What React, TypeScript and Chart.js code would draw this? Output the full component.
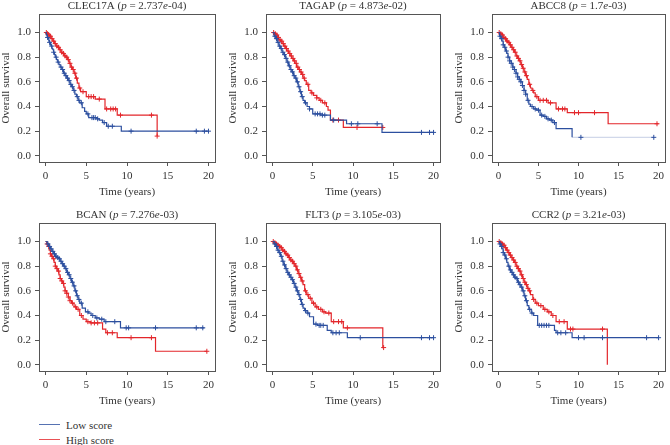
import React, { useEffect, useRef } from "react";
import { Chart, registerables } from "chart.js";
Chart.register(...registerables);

// ---------- data ----------
const genes = ["CLEC17A", "TAGAP", "ABCC8", "BCAN", "FLT3", "CCR2"];
const pMantissas = ["2.737", "4.873", "1.7", "7.276", "3.105", "3.21"];
const pExponents = ["-04", "-02", "-03", "-03", "-03", "-03"];
const xTicks = [0, 5, 10, 15, 20];
const yTicks = [0, 0.2, 0.4, 0.6, 0.8, 1.0];
const seriesNames = ["Low score", "High score"];
const xTitle = "Time (years)";
const yTitle = "Overall survival";

// CLEC17A
const clecLowT = [0, 0.1, 0.2, 0.3, 0.4, 0.5, 0.6, 0.7, 0.8, 0.9, 1.0, 1.1, 1.2, 1.35, 1.5, 1.65, 1.8, 2.0, 2.2, 2.4, 2.6, 2.8, 3.0, 3.2, 3.4, 3.6, 3.8, 4.0, 4.2, 4.5, 4.8, 5.0, 5.3, 6.3, 6.6, 7.0, 7.5, 9.3, 20];
const clecLowS = [1.0, 0.98, 0.96, 0.95, 0.93, 0.92, 0.9, 0.89, 0.87, 0.86, 0.84, 0.82, 0.8, 0.78, 0.76, 0.74, 0.72, 0.7, 0.67, 0.65, 0.63, 0.61, 0.58, 0.56, 0.53, 0.5, 0.48, 0.45, 0.43, 0.39, 0.36, 0.34, 0.31, 0.3, 0.29, 0.27, 0.24, 0.2, 0.2];
const clecLowC = [0.25, 0.5, 0.75, 1.0, 1.3, 1.55, 1.9, 2.1, 2.3, 2.5, 2.7, 2.9, 3.1, 3.3, 3.5, 3.9, 4.1, 4.4, 5.2, 5.7, 5.9, 6.1, 6.4, 7.2, 7.7, 8.2, 10.5, 18.5, 19.5, 20];
const clecHighT = [0, 0.15, 0.3, 0.5, 0.7, 0.9, 1.1, 1.3, 1.5, 1.7, 1.9, 2.1, 2.3, 2.5, 2.7, 2.9, 3.1, 3.3, 3.5, 3.7, 3.9, 4.1, 4.3, 5.0, 6.1, 7.3, 8.8, 13.7];
const clecHighS = [1.0, 0.99, 0.98, 0.97, 0.95, 0.93, 0.91, 0.89, 0.88, 0.86, 0.84, 0.83, 0.81, 0.8, 0.78, 0.75, 0.72, 0.7, 0.67, 0.63, 0.59, 0.55, 0.52, 0.48, 0.46, 0.38, 0.33, 0.16];
const clecHighC = [0.1, 0.25, 0.4, 0.6, 0.8, 1.0, 1.2, 1.4, 1.6, 1.8, 2.0, 2.2, 2.4, 2.6, 2.8, 3.0, 3.2, 3.4, 3.6, 3.8, 4.2, 4.6, 5.3, 5.6, 5.9, 6.6, 7.5, 8.0, 8.3, 8.6, 9.2, 13.0, 13.7];

// TAGAP
const tagapLowT = [0, 0.2, 0.4, 0.6, 0.8, 1.0, 1.2, 1.4, 1.6, 1.8, 2.0, 2.2, 2.4, 2.6, 2.8, 3.0, 3.2, 3.4, 3.6, 3.8, 4.0, 4.3, 4.6, 5.0, 6.0, 7.2, 9.2, 13.6, 20];
const tagapLowS = [1, 0.97, 0.95, 0.92, 0.89, 0.87, 0.84, 0.82, 0.79, 0.76, 0.73, 0.7, 0.68, 0.65, 0.63, 0.6, 0.56, 0.52, 0.48, 0.45, 0.43, 0.4, 0.38, 0.34, 0.33, 0.29, 0.26, 0.19, 0.19];
const tagapLowC = [0.3, 0.5, 0.7, 0.9, 1.1, 1.3, 1.5, 1.7, 1.9, 2.1, 2.3, 2.5, 2.7, 2.9, 3.1, 3.3, 3.5, 3.7, 4.1, 4.6, 5.3, 5.6, 5.9, 6.2, 6.5, 7.6, 9.8, 10.6, 13.0, 18.5, 19.5, 20];
const tagapHighT = [0, 0.2, 0.4, 0.6, 0.8, 1.0, 1.2, 1.4, 1.6, 1.8, 2.0, 2.2, 2.4, 2.6, 2.8, 3.0, 3.2, 3.4, 3.6, 3.8, 4.0, 4.2, 4.5, 4.8, 5.1, 5.5, 5.8, 6.2, 6.7, 6.9, 7.2, 8.8, 13.7];
const tagapHighS = [1, 0.99, 0.98, 0.96, 0.94, 0.93, 0.91, 0.89, 0.87, 0.85, 0.83, 0.81, 0.79, 0.77, 0.75, 0.72, 0.7, 0.68, 0.66, 0.63, 0.61, 0.58, 0.53, 0.51, 0.49, 0.47, 0.45, 0.43, 0.4, 0.37, 0.29, 0.23, 0.23];
const tagapHighC = [0.15, 0.35, 0.55, 0.75, 0.95, 1.15, 1.35, 1.55, 1.75, 1.95, 2.15, 2.35, 2.55, 2.75, 2.95, 3.15, 3.35, 3.55, 3.75, 3.95, 4.4, 4.9, 5.5, 6.0, 6.5, 7.5, 8.2, 10.5, 13.7];

// ABCC8
const abccLowT = [0, 0.15, 0.3, 0.45, 0.6, 0.75, 0.9, 1.05, 1.2, 1.4, 1.6, 1.8, 2.0, 2.2, 2.4, 2.6, 2.8, 3.0, 3.2, 3.4, 3.6, 3.8, 4.0, 4.4, 4.8, 5.2, 5.6, 6.0, 6.4, 6.8, 7.2, 9.2, 19.4];
const abccLowS = [1, 0.97, 0.95, 0.93, 0.9, 0.88, 0.85, 0.83, 0.8, 0.77, 0.75, 0.72, 0.7, 0.67, 0.64, 0.62, 0.6, 0.57, 0.53, 0.5, 0.45, 0.42, 0.4, 0.38, 0.37, 0.33, 0.32, 0.3, 0.29, 0.27, 0.22, 0.15, 0.15];
const abccLowC = [0.2, 0.4, 0.6, 0.8, 1.0, 1.2, 1.4, 1.6, 1.8, 2.0, 2.2, 2.4, 2.6, 2.8, 3.0, 3.2, 3.4, 3.7, 4.2, 4.6, 5.0, 5.4, 5.8, 6.2, 6.6, 7.0, 10.3, 19.4];
const abccHighT = [0, 0.2, 0.4, 0.6, 0.8, 1.0, 1.2, 1.4, 1.6, 1.8, 2.0, 2.2, 2.4, 2.6, 2.8, 3.0, 3.2, 3.4, 3.6, 3.8, 4.0, 4.2, 4.4, 4.6, 5.0, 6.2, 7.2, 8.6, 13.7, 20];
const abccHighS = [1, 0.99, 0.98, 0.96, 0.95, 0.93, 0.92, 0.9, 0.88, 0.86, 0.84, 0.81, 0.79, 0.77, 0.74, 0.71, 0.68, 0.65, 0.62, 0.58, 0.55, 0.53, 0.51, 0.48, 0.45, 0.43, 0.38, 0.35, 0.26, 0.26];
const abccHighC = [0.1, 0.3, 0.5, 0.7, 0.9, 1.1, 1.3, 1.5, 1.7, 1.9, 2.1, 2.3, 2.5, 2.7, 2.9, 3.1, 3.3, 3.5, 3.9, 4.3, 4.8, 5.2, 5.6, 6.0, 6.5, 7.5, 8.0, 8.3, 9.5, 10.0, 12.0, 19.8];

// BCAN
const bcanLowT = [0, 0.2, 0.4, 0.6, 0.8, 1.0, 1.2, 1.4, 1.6, 1.8, 2.0, 2.2, 2.4, 2.6, 2.8, 3.0, 3.2, 3.4, 3.6, 3.8, 4.0, 4.2, 4.5, 4.9, 5.3, 5.6, 6.1, 6.6, 7.2, 9.2, 19.5];
const bcanLowS = [1, 0.98, 0.96, 0.94, 0.92, 0.9, 0.88, 0.87, 0.86, 0.84, 0.82, 0.8, 0.78, 0.75, 0.73, 0.7, 0.67, 0.64, 0.6, 0.56, 0.53, 0.5, 0.46, 0.43, 0.42, 0.4, 0.38, 0.37, 0.35, 0.3, 0.3];
const bcanLowC = [0.3, 0.5, 0.7, 0.9, 1.1, 1.3, 1.5, 1.7, 1.9, 2.1, 2.3, 2.5, 2.7, 2.9, 3.1, 3.3, 3.5, 3.7, 3.9, 4.1, 4.4, 5.2, 5.8, 6.3, 6.9, 7.4, 8.5, 9.9, 10.2, 13.5, 18.5, 19.3];
const bcanHighT = [0, 0.15, 0.3, 0.45, 0.6, 0.75, 0.9, 1.05, 1.2, 1.35, 1.5, 1.65, 1.8, 1.95, 2.1, 2.25, 2.4, 2.6, 2.8, 3.0, 3.2, 3.5, 3.8, 4.2, 4.6, 5.0, 5.5, 7.0, 7.4, 8.8, 13.5, 19.8];
const bcanHighS = [1, 0.98, 0.96, 0.93, 0.9, 0.88, 0.86, 0.83, 0.8, 0.78, 0.76, 0.73, 0.7, 0.68, 0.66, 0.63, 0.6, 0.58, 0.55, 0.52, 0.5, 0.47, 0.45, 0.4, 0.37, 0.35, 0.34, 0.29, 0.26, 0.22, 0.11, 0.11];
const bcanHighC = [0.2, 0.4, 0.6, 0.8, 1.0, 1.2, 1.4, 1.6, 1.8, 2.0, 2.2, 2.4, 2.6, 2.8, 3.0, 3.3, 3.7, 4.0, 4.4, 5.2, 5.6, 6.0, 6.4, 7.6, 8.2, 10.5, 13.0, 19.8];

// FLT3
const flt3LowT = [0, 0.2, 0.4, 0.6, 0.8, 1.0, 1.2, 1.4, 1.6, 1.8, 2.0, 2.2, 2.4, 2.6, 2.8, 3.0, 3.2, 3.4, 3.6, 3.8, 4.0, 4.3, 4.6, 5.1, 5.6, 6.8, 7.3, 9.3, 20];
const flt3LowS = [1, 0.98, 0.96, 0.93, 0.91, 0.88, 0.84, 0.81, 0.78, 0.75, 0.73, 0.71, 0.69, 0.66, 0.63, 0.6, 0.57, 0.53, 0.49, 0.46, 0.44, 0.42, 0.39, 0.33, 0.32, 0.28, 0.26, 0.22, 0.22];
const flt3LowC = [0.3, 0.5, 0.7, 0.9, 1.1, 1.3, 1.5, 1.7, 1.9, 2.1, 2.3, 2.5, 2.7, 2.9, 3.1, 3.3, 3.5, 3.7, 4.1, 4.4, 5.4, 5.8, 6.0, 6.3, 7.5, 7.9, 8.3, 10.9, 18.5, 19.5, 20];
const flt3HighT = [0, 0.2, 0.4, 0.6, 0.8, 1.0, 1.2, 1.4, 1.6, 1.8, 2.0, 2.2, 2.4, 2.6, 2.8, 3.0, 3.2, 3.4, 3.6, 3.8, 4.0, 4.2, 4.5, 4.9, 5.3, 5.7, 6.2, 6.6, 7.3, 8.8, 13.7, 13.8];
const flt3HighS = [1, 0.99, 0.98, 0.97, 0.96, 0.95, 0.93, 0.92, 0.9, 0.89, 0.87, 0.85, 0.84, 0.82, 0.8, 0.77, 0.74, 0.71, 0.68, 0.65, 0.6, 0.57, 0.54, 0.5, 0.47, 0.45, 0.43, 0.42, 0.35, 0.3, 0.14, 0.14];
const flt3HighC = [0.1, 0.3, 0.5, 0.7, 0.9, 1.1, 1.3, 1.5, 1.7, 1.9, 2.1, 2.3, 2.5, 2.7, 2.9, 3.1, 3.3, 3.5, 3.7, 4.1, 4.4, 4.7, 5.1, 5.5, 6.0, 6.4, 7.0, 7.6, 8.2, 8.6, 9.3, 13.8];

// CCR2
const ccr2LowT = [0, 0.15, 0.3, 0.45, 0.6, 0.75, 0.9, 1.05, 1.2, 1.4, 1.6, 1.8, 2.0, 2.2, 2.4, 2.6, 2.8, 3.0, 3.2, 3.4, 3.6, 3.8, 4.1, 4.4, 4.9, 7.0, 7.2, 9.2, 20];
const ccr2LowS = [1, 0.98, 0.96, 0.94, 0.91, 0.89, 0.86, 0.83, 0.8, 0.77, 0.75, 0.73, 0.71, 0.7, 0.67, 0.65, 0.63, 0.6, 0.56, 0.52, 0.48, 0.45, 0.42, 0.4, 0.32, 0.28, 0.26, 0.22, 0.22];
const ccr2LowC = [0.2, 0.4, 0.6, 0.8, 1.0, 1.3, 1.5, 1.7, 1.9, 2.1, 2.3, 2.5, 2.7, 2.9, 3.1, 3.3, 3.5, 3.9, 4.2, 5.1, 5.4, 5.7, 6.0, 6.3, 7.4, 7.8, 8.4, 10.0, 10.7, 13.0, 18.5, 20];
const ccr2HighT = [0, 0.2, 0.4, 0.6, 0.8, 1.0, 1.2, 1.4, 1.6, 1.8, 2.0, 2.2, 2.4, 2.6, 2.8, 3.0, 3.2, 3.4, 3.6, 3.8, 4.0, 4.3, 4.6, 5.0, 5.6, 6.1, 6.6, 7.2, 8.6, 13.6];
const ccr2HighS = [1, 0.99, 0.98, 0.97, 0.95, 0.93, 0.91, 0.89, 0.87, 0.85, 0.83, 0.8, 0.78, 0.76, 0.73, 0.7, 0.67, 0.65, 0.62, 0.6, 0.57, 0.53, 0.5, 0.48, 0.45, 0.43, 0.4, 0.35, 0.29, 0.0];
const ccr2HighC = [0.1, 0.3, 0.5, 0.7, 0.9, 1.1, 1.3, 1.5, 1.7, 1.9, 2.1, 2.3, 2.5, 2.7, 2.9, 3.1, 3.3, 3.5, 3.7, 3.9, 4.4, 4.8, 5.3, 5.8, 6.3, 6.8, 7.6, 8.2, 9.0, 9.3, 13.0];

const lowTimes = [clecLowT, tagapLowT, abccLowT, bcanLowT, flt3LowT, ccr2LowT];
const lowSurv = [clecLowS, tagapLowS, abccLowS, bcanLowS, flt3LowS, ccr2LowS];
const lowCens = [clecLowC, tagapLowC, abccLowC, bcanLowC, flt3LowC, ccr2LowC];
const highTimes = [clecHighT, tagapHighT, abccHighT, bcanHighT, flt3HighT, ccr2HighT];
const highSurv = [clecHighS, tagapHighS, abccHighS, bcanHighS, flt3HighS, ccr2HighS];
const highCens = [clecHighC, tagapHighC, abccHighC, bcanHighC, flt3HighC, ccr2HighC];
// time after which the low-score line is printed very faintly (ABCC8 only)
const lowFaintAfter = [Infinity, Infinity, 9.2, Infinity, Infinity, Infinity];

// ---------- styling / layout ----------
const BLUE = "#2c4f9f";
const BLUE_FAINT = "rgba(44,79,159,0.22)";
const RED = "#e3262b";
const FONT = "'Liberation Serif', 'DejaVu Serif', serif";
const FS = 11;
const TEXT = "#333333";
const AXIS = "#555555";
const colLefts = [0, 227, 453];
const plotWidths = [179, 177, 176];
const rowTops = [0, 209];

function stepAt(ts: number[], ss: number[], t: number) {
  let v = ss[0];
  for (let i = 0; i < ts.length; i++) if (ts[i] <= t) v = ss[i];
  return v;
}

const boxPlugin = {
  id: "kmBox",
  afterDraw(chart: any) {
    const { ctx, chartArea: a } = chart;
    ctx.save();
    ctx.strokeStyle = AXIS;
    ctx.lineWidth = 1;
    ctx.strokeRect(Math.round(a.left) + 0.5, Math.round(a.top) + 0.5, Math.round(a.right - a.left), Math.round(a.bottom - a.top));
    ctx.restore();
  },
};

const titlePlugin = {
  id: "kmTitle",
  afterDraw(chart: any, _args: any, opts: any) {
    const segs: { t: string; i: boolean }[] = opts.segments || [];
    const { ctx, chartArea: a } = chart;
    ctx.save();
    ctx.fillStyle = TEXT;
    ctx.textBaseline = "middle";
    ctx.textAlign = "left";
    const fontOf = (it: boolean) => `${it ? "italic " : ""}${FS}px ${FONT}`;
    let total = 0;
    for (const s of segs) { ctx.font = fontOf(s.i); total += ctx.measureText(s.t).width; }
    let x = (a.left + a.right) / 2 - total / 2;
    const y = a.top - 8;
    for (const s of segs) { ctx.font = fontOf(s.i); ctx.fillText(s.t, x, y); x += ctx.measureText(s.t).width; }
    ctx.restore();
  },
};

function Panel({ idx }: { idx: number }) {
  const ref = useRef<HTMLCanvasElement | null>(null);
  const col = idx % 3;
  const row = Math.floor(idx / 3);
  const width = 39 + plotWidths[col] + 2;
  const height = 200;
  useEffect(() => {
    if (!ref.current) return;
    const line = (ts: number[], ss: number[], color: string, faintAfter: number) => ({
      data: ts.map((t, i) => ({ x: t, y: ss[i] })),
      showLine: true,
      stepped: true,
      borderColor: color,
      borderWidth: 1.2,
      pointRadius: 0,
      fill: false,
      segment: {
        borderColor: (c: any) => (c.p0.parsed.x >= faintAfter ? BLUE_FAINT : undefined),
      },
    });
    const cens = (cs: number[], ts: number[], ss: number[], color: string) => ({
      data: cs.map((t) => ({ x: t, y: stepAt(ts, ss, t) })),
      showLine: false,
      pointStyle: "cross",
      pointRadius: 2.5,
      borderColor: color,
      borderWidth: 1,
      backgroundColor: color,
    });
    const tickFont = { family: FONT, size: FS };
    const chart = new Chart(ref.current, {
      type: "scatter",
      data: {
        datasets: [
          { label: seriesNames[0], ...line(lowTimes[idx], lowSurv[idx], BLUE, lowFaintAfter[idx]) },
          { label: seriesNames[0] + " censored", ...cens(lowCens[idx], lowTimes[idx], lowSurv[idx], BLUE) },
          { label: seriesNames[1], ...line(highTimes[idx], highSurv[idx], RED, Infinity) },
          { label: seriesNames[1] + " censored", ...cens(highCens[idx], highTimes[idx], highSurv[idx], RED) },
        ] as any,
      },
      options: {
        animation: false,
        responsive: false,
        maintainAspectRatio: false,
        layout: { padding: { top: 14, right: 2, left: 0, bottom: 0 } },
        plugins: {
          legend: { display: false },
          tooltip: { enabled: false },
          kmTitle: {
            segments: [
              { t: genes[idx] + " (", i: false },
              { t: "p", i: true },
              { t: " = " + pMantissas[idx], i: false },
              { t: "e", i: true },
              { t: pExponents[idx] + ")", i: false },
            ],
          },
        } as any,
        scales: {
          x: {
            type: "linear",
            min: -0.8,
            max: 20.8,
            afterBuildTicks: (s: any) => { s.ticks = xTicks.map((v) => ({ value: v })); },
            afterFit: (s: any) => { s.height = 38; s.paddingLeft = 0; s.paddingRight = 0; },
            ticks: { font: tickFont, color: TEXT, padding: 4, autoSkip: false, maxRotation: 0, callback: (v: any) => String(v) },
            grid: { display: true, drawOnChartArea: false, drawTicks: true, tickLength: 4, color: AXIS },
            border: { display: false },
            title: { display: true, text: xTitle, font: tickFont, color: TEXT, padding: { top: 0, bottom: 1 } },
          },
          y: {
            type: "linear",
            min: -0.05,
            max: 1.15,
            afterBuildTicks: (s: any) => { s.ticks = yTicks.map((v) => ({ value: v })); },
            afterFit: (s: any) => { s.width = 39; s.paddingTop = 0; s.paddingBottom = 0; },
            ticks: { font: tickFont, color: TEXT, padding: 4, autoSkip: false, callback: (v: any) => Number(v).toFixed(1) },
            grid: { display: true, drawOnChartArea: false, drawTicks: true, tickLength: 4, color: AXIS },
            border: { display: false },
            title: { display: true, text: yTitle, font: tickFont, color: TEXT, padding: { top: 0, bottom: 0 } },
          },
        },
      } as any,
      plugins: [boxPlugin, titlePlugin],
    });
    return () => chart.destroy();
  }, [idx]);
  return (
    <canvas
      ref={ref}
      width={width}
      height={height}
      style={{ position: "absolute", left: colLefts[col], top: rowTops[row], width, height, display: "block" }}
    />
  );
}

export default function App() {
  const legendColors = [BLUE, RED];
  return (
    <div style={{ position: "absolute", left: 0, top: 0, width: 670, height: 445, background: "#fff", overflow: "hidden" }}>
      {genes.map((_, i) => (
        <Panel key={i} idx={i} />
      ))}
      <div style={{ position: "absolute", left: 39, top: 417, fontFamily: FONT, fontSize: FS, color: TEXT }}>
        {seriesNames.map((n, i) => (
          <div key={n} style={{ display: "flex", alignItems: "center", height: 15 }}>
            <span style={{ display: "inline-block", width: 21, height: 1, background: legendColors[i], opacity: 0.8, marginRight: 6 }} />
            <span>{n}</span>
          </div>
        ))}
      </div>
    </div>
  );
}
